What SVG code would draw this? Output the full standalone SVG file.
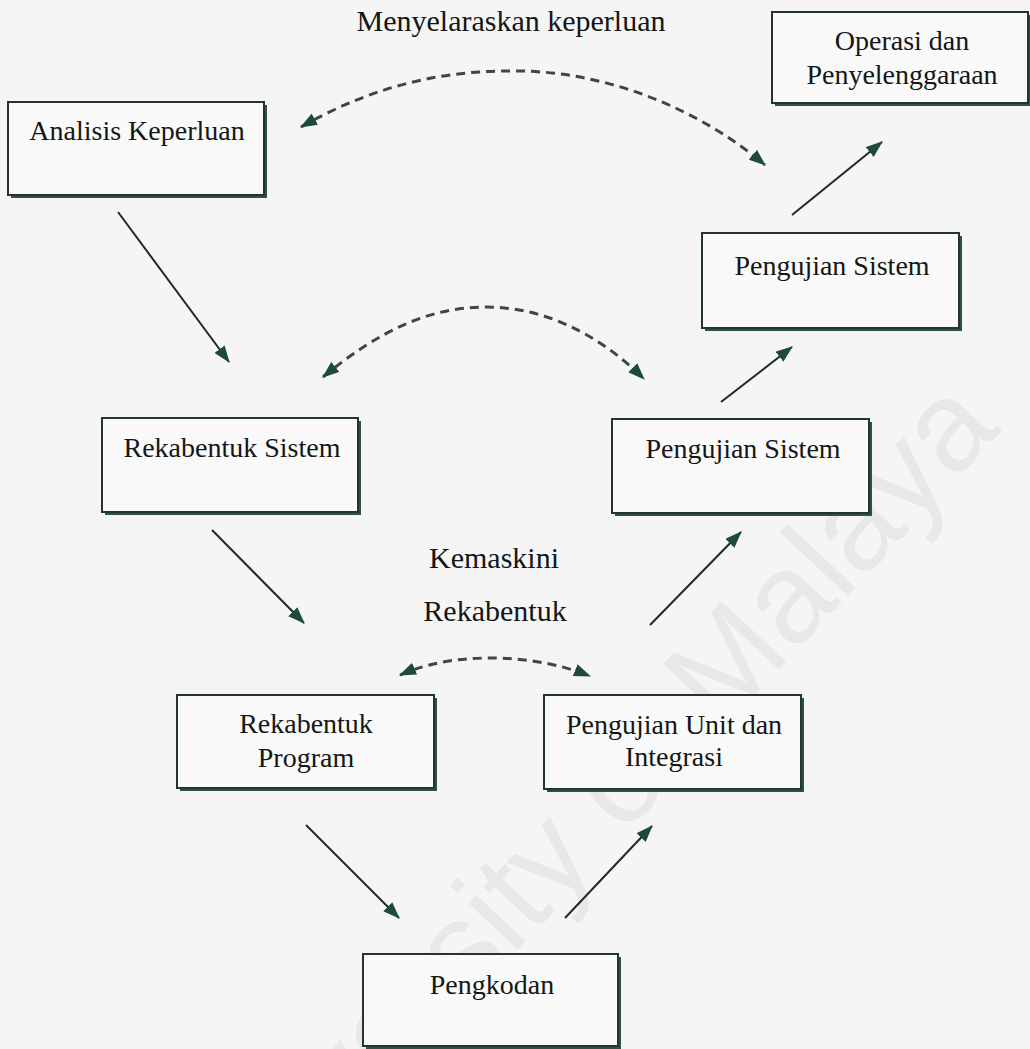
<svg xmlns="http://www.w3.org/2000/svg" width="1030" height="1049" viewBox="0 0 1030 1049">
  <defs>
    <style>
      .bg { fill: #f4f5f4; }
      .mark { font-family: "Liberation Sans", Arial, sans-serif; font-size: 128px; fill: #e7e8e7; }
      .shadow { fill: #2e5047; }
      .box { fill: #f8f9f8; stroke: #22362f; stroke-width: 2; }
      .lbl { font-family: "Liberation Serif", "Times New Roman", serif; font-size: 28px; fill: #141716; text-anchor: middle; }
      .free { font-size: 30px; }
      .solid { fill: none; stroke: #1f2a27; stroke-width: 2; marker-end: url(#head); }
      .dash { fill: none; stroke: #3f4744; stroke-width: 3; stroke-dasharray: 9 6; marker-start: url(#head); marker-end: url(#head); }
    </style>
    <marker id="head" viewBox="0 0 16 12" refX="15" refY="6" markerWidth="17" markerHeight="13" markerUnits="userSpaceOnUse" orient="auto-start-reverse">
      <path d="M0,0 L16,6 L0,12 Z" fill="#1c4a3f"/>
    </marker>
  </defs>

  <rect class="bg" x="0" y="0" width="1030" height="1049"/>

  <!-- faint watermark running diagonally across the page -->
  <text class="mark" x="1002" y="430" text-anchor="end" transform="rotate(-47 1002 430)">University of Malaya</text>

  <!-- free-standing labels -->
  <text class="lbl free" x="511" y="31">Menyelaraskan keperluan</text>
  <text class="lbl free" x="494" y="568">Kemaskini</text>
  <text class="lbl free" x="495" y="621">Rekabentuk</text>

  <g id="connectors">
    <path class="solid" d="M118,212 L229,362"/>
    <path class="solid" d="M212,530 L304,623"/>
    <path class="solid" d="M306,825 L399,918"/>
    <path class="solid" d="M565,918 L652,826"/>
    <path class="solid" d="M650,625 L741,532"/>
    <path class="solid" d="M721,402 L792,347"/>
    <path class="solid" d="M792,215 L882,142"/>
    <path class="dash" d="M301,127 C380,82 450,70 519,71 C610,72 700,110 765,165"/>
    <path class="dash" d="M323,377 C380,330 430,307 486,307 C545,307 600,335 644,379"/>
    <path class="dash" d="M400,675 C430,662 460,658 491,658 C525,658 560,664 590,676"/>
  </g>

  <g id="analisis-keperluan">
    <rect class="shadow" x="11" y="105" width="256" height="93"/>
    <rect class="box" x="8" y="102" width="256" height="93"/>
    <text class="lbl" x="137" y="140">Analisis Keperluan</text>
  </g>

  <g id="operasi-penyelenggaraan">
    <rect class="shadow" x="775" y="15" width="256" height="91"/>
    <rect class="box" x="772" y="12" width="256" height="91"/>
    <text class="lbl" x="902" y="50">Operasi dan</text>
    <text class="lbl" x="902" y="84">Penyelenggaraan</text>
  </g>

  <g id="pengujian-sistem-atas">
    <rect class="shadow" x="705" y="236" width="257" height="95"/>
    <rect class="box" x="702" y="233" width="257" height="95"/>
    <text class="lbl" x="832" y="275">Pengujian Sistem</text>
  </g>

  <g id="rekabentuk-sistem">
    <rect class="shadow" x="105" y="421" width="256" height="94"/>
    <rect class="box" x="102" y="418" width="256" height="94"/>
    <text class="lbl" x="232" y="457">Rekabentuk Sistem</text>
  </g>

  <g id="pengujian-sistem">
    <rect class="shadow" x="615" y="422" width="257" height="94"/>
    <rect class="box" x="612" y="419" width="257" height="94"/>
    <text class="lbl" x="743" y="458">Pengujian Sistem</text>
  </g>

  <g id="rekabentuk-program">
    <rect class="shadow" x="180" y="698" width="257" height="93"/>
    <rect class="box" x="177" y="695" width="257" height="93"/>
    <text class="lbl" x="306" y="733">Rekabentuk</text>
    <text class="lbl" x="306" y="767">Program</text>
  </g>

  <g id="pengujian-unit-integrasi">
    <rect class="shadow" x="547" y="698" width="257" height="94"/>
    <rect class="box" x="544" y="695" width="257" height="94"/>
    <text class="lbl" x="674" y="734">Pengujian Unit dan</text>
    <text class="lbl" x="674" y="766">Integrasi</text>
  </g>

  <g id="pengkodan">
    <rect class="shadow" x="366" y="957" width="255" height="92"/>
    <rect class="box" x="363" y="954" width="255" height="92"/>
    <text class="lbl" x="492" y="994">Pengkodan</text>
  </g>
</svg>
